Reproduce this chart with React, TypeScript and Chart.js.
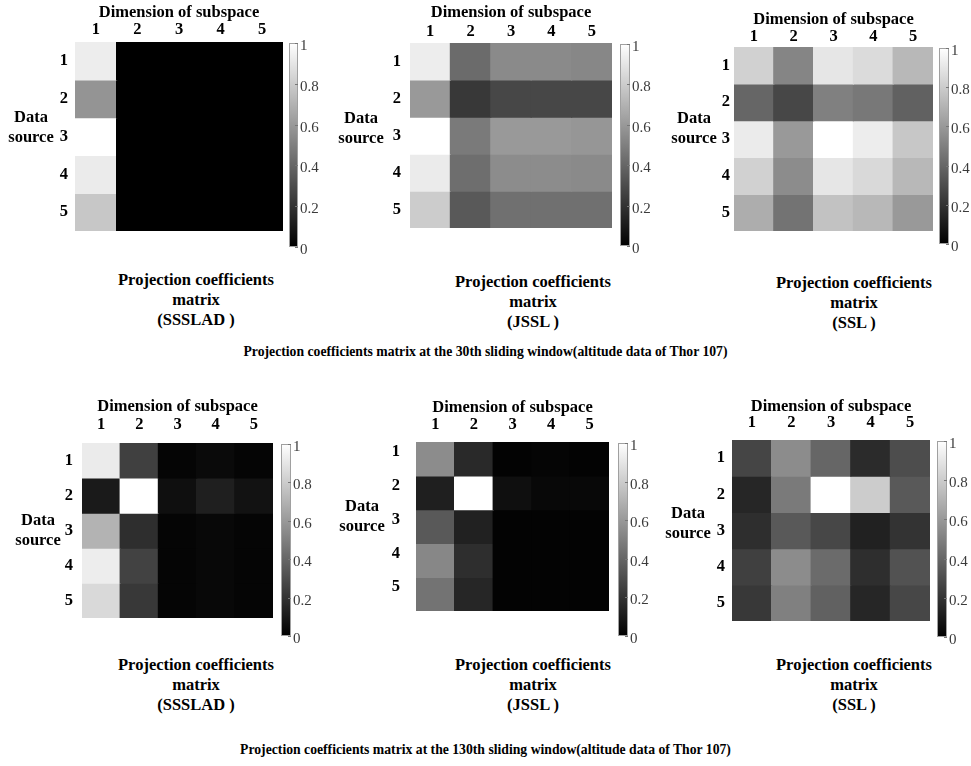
import React, { useEffect, useRef } from "react";
import { Chart, registerables } from "chart.js";
Chart.register(...registerables);

// ---------- data ----------
const dimensionLabels = ["1", "2", "3", "4", "5"];
const sourceLabels = ["1", "2", "3", "4", "5"];
const colorbarTicks = [0, 0.2, 0.4, 0.6, 0.8, 1];

// rows = data source 1..5, columns = dimension of subspace 1..5
const sssladWin30 = [
  [0.93, 0, 0, 0, 0],
  [0.58, 0, 0, 0, 0],
  [1.0, 0, 0, 0, 0],
  [0.92, 0, 0, 0, 0],
  [0.78, 0, 0, 0, 0],
];
const jsslWin30 = [
  [0.93, 0.42, 0.54, 0.54, 0.53],
  [0.6, 0.22, 0.28, 0.28, 0.28],
  [1.0, 0.48, 0.6, 0.6, 0.59],
  [0.92, 0.43, 0.55, 0.55, 0.54],
  [0.8, 0.35, 0.44, 0.44, 0.44],
];
const sslWin30 = [
  [0.82, 0.52, 0.9, 0.86, 0.72],
  [0.4, 0.28, 0.5, 0.47, 0.38],
  [0.92, 0.6, 1.0, 0.93, 0.78],
  [0.82, 0.55, 0.9, 0.85, 0.72],
  [0.68, 0.45, 0.76, 0.72, 0.6],
];
const sssladWin130 = [
  [0.92, 0.25, 0.02, 0.04, 0.02],
  [0.1, 1.0, 0.06, 0.12, 0.07],
  [0.7, 0.18, 0.02, 0.03, 0.02],
  [0.93, 0.26, 0.02, 0.03, 0.02],
  [0.85, 0.22, 0.02, 0.03, 0.02],
];
const jsslWin130 = [
  [0.55, 0.16, 0.01, 0.02, 0.01],
  [0.12, 1.0, 0.06, 0.03, 0.03],
  [0.35, 0.13, 0.01, 0.01, 0.01],
  [0.53, 0.18, 0.01, 0.01, 0.01],
  [0.45, 0.15, 0.01, 0.01, 0.01],
];
const sslWin130 = [
  [0.27, 0.55, 0.4, 0.17, 0.3],
  [0.15, 0.48, 1.0, 0.8, 0.35],
  [0.18, 0.35, 0.28, 0.13, 0.2],
  [0.25, 0.55, 0.42, 0.18, 0.32],
  [0.22, 0.5, 0.38, 0.15, 0.28],
];

const xAxisTitle = "Dimension of subspace";
const yAxisTitle = ["Data", "source"];
const bottomTitle = ["Projection coefficients", "matrix"];
const suptitle30 = "Projection coefficients matrix at the 30th sliding window(altitude data of Thor 107)";
const suptitle130 = "Projection coefficients matrix at the 130th sliding window(altitude data of Thor 107)";

// ---------- layout ----------
const FONT = "'Liberation Serif', 'Times New Roman', serif";
const LABEL_SIZE = 16.5;

type Panel = {
  data: number[][];
  method: string;
  hx: number; hy: number; hw: number; hh: number;
  cbx: number; cbw: number;
  xTickPad: number; titleRise: number; yTickPad: number; yLabelOffset: number;
  dsx: number; dsy: number; btx: number; bty: number;
};

const panels: Panel[] = [
  { data: sssladWin30, method: "(SSSLAD )", hx: 75, hy: 42, hw: 208, hh: 206, cbx: 289, cbw: 9,
    xTickPad: 2, titleRise: 29, yTickPad: 7, yLabelOffset: 0, dsx: 31, dsy: 117, btx: 196, bty: 280 },
  { data: jsslWin30, method: "(JSSL )", hx: 410, hy: 43, hw: 202, hh: 204, cbx: 620, cbw: 10,
    xTickPad: 1, titleRise: 30, yTickPad: 9, yLabelOffset: 0, dsx: 361, dsy: 118, btx: 533, bty: 282 },
  { data: sslWin30, method: "(SSL )", hx: 734, hy: 47, hw: 199, hh: 198, cbx: 939, cbw: 10,
    xTickPad: 0, titleRise: 27, yTickPad: 4, yLabelOffset: 0, dsx: 694, dsy: 118, btx: 854, bty: 283 },
  { data: sssladWin130, method: "(SSSLAD )", hx: 82, hy: 443, hw: 191, hh: 194, cbx: 281, cbw: 10,
    xTickPad: 8, titleRise: 36, yTickPad: 9, yLabelOffset: 0, dsx: 38, dsy: 520, btx: 196, bty: 665 },
  { data: jsslWin130, method: "(JSSL )", hx: 416, hy: 442, hw: 193, hh: 195, cbx: 618, cbw: 10,
    xTickPad: 7, titleRise: 34, yTickPad: 16, yLabelOffset: -7, dsx: 362, dsy: 506, btx: 533, bty: 665 },
  { data: sslWin130, method: "(SSL )", hx: 732, hy: 440, hw: 198, hh: 198, cbx: 937, cbw: 10,
    xTickPad: 7, titleRise: 33, yTickPad: 7, yLabelOffset: 0, dsx: 688, dsy: 513, btx: 854, bty: 665 },
];

const gray = (v: number) => {
  const g = Math.round(Math.max(0, Math.min(1, v)) * 255);
  return `rgb(${g},${g},${g})`;
};

const LEFT_W = 40;

function Heatmap({ p }: { p: Panel }) {
  const ref = useRef<HTMLCanvasElement>(null);
  const half = (LABEL_SIZE * 1.2) / 2;
  const topH = Math.round(p.titleRise + half);
  useEffect(() => {
    if (!ref.current) return;
    const chart = new Chart(ref.current, {
      type: "bar",
      data: {
        labels: dimensionLabels,
        datasets: p.data.map((row, r) => ({
          label: sourceLabels[r],
          data: row.map(() => 1),
          backgroundColor: row.map(gray),
          borderWidth: 0,
          barPercentage: 1,
          categoryPercentage: 1,
          inflateAmount: 0.6,
        })),
      },
      options: {
        animation: false,
        responsive: false,
        layout: { padding: 0 },
        plugins: { legend: { display: false }, tooltip: { enabled: false }, title: { display: false } },
        scales: {
          x: {
            position: "top",
            stacked: true,
            grid: { display: false, drawTicks: false },
            border: { display: false },
            ticks: {
              color: "#000", padding: p.xTickPad, maxRotation: 0, autoSkip: false,
              font: { family: FONT, size: LABEL_SIZE, weight: "bold" },
            },
            title: {
              display: true, text: xAxisTitle, color: "#000", padding: 0,
              font: { family: FONT, size: LABEL_SIZE, weight: "bold" },
            },
            afterFit: (s: any) => { s.height = topH; },
          },
          y: {
            stacked: true,
            reverse: true,
            min: 0,
            max: sourceLabels.length,
            grid: { display: false, drawTicks: false },
            border: { display: false },
            afterBuildTicks: (s: any) => {
              s.ticks = sourceLabels.map((_, i) => ({ value: i + 0.5 }));
            },
            ticks: {
              color: "#000", padding: p.yTickPad, labelOffset: p.yLabelOffset, autoSkip: false,
              font: { family: FONT, size: LABEL_SIZE, weight: "bold" },
              callback: (v: any) => sourceLabels[Math.floor(Number(v))],
            },
            afterFit: (s: any) => { s.width = LEFT_W; },
          },
        },
      } as any,
    });
    return () => chart.destroy();
  }, []);
  return (
    <div style={{ position: "absolute", left: p.hx - LEFT_W, top: p.hy - topH, width: p.hw + LEFT_W, height: p.hh + topH }}>
      <canvas ref={ref} width={p.hw + LEFT_W} height={p.hh + topH} />
    </div>
  );
}

const CB_PAD = 10;
const CB_LABEL_W = 32;

function Colorbar({ p }: { p: Panel }) {
  const ref = useRef<HTMLCanvasElement>(null);
  useEffect(() => {
    if (!ref.current) return;
    const frame = {
      id: "cbframe",
      afterDatasetsDraw(chart: any) {
        const { ctx, chartArea } = chart;
        const ys = chart.scales.y;
        ctx.save();
        ctx.strokeStyle = "#a0a0a0";
        ctx.lineWidth = 1;
        ctx.strokeRect(chartArea.left + 0.5, chartArea.top + 0.5, chartArea.right - chartArea.left - 1, chartArea.bottom - chartArea.top - 1);
        ctx.strokeStyle = "#777";
        colorbarTicks.forEach((t) => {
          const y = Math.round(ys.getPixelForValue(t)) + 0.5;
          ctx.beginPath();
          ctx.moveTo(chartArea.right - 3, y);
          ctx.lineTo(chartArea.right, y);
          ctx.stroke();
        });
        ctx.restore();
      },
    };
    const chart = new Chart(ref.current, {
      type: "bar",
      data: {
        labels: [""],
        datasets: [
          {
            data: [[0, 1]] as any,
            borderWidth: 0,
            barPercentage: 1,
            categoryPercentage: 1,
            backgroundColor: (ctx: any) => {
              const { chart } = ctx;
              const ca = chart.chartArea;
              if (!ca) return "#888";
              const g = chart.ctx.createLinearGradient(0, ca.bottom, 0, ca.top);
              g.addColorStop(0, gray(0));
              g.addColorStop(1, gray(1));
              return g;
            },
          },
        ],
      },
      options: {
        animation: false,
        responsive: false,
        layout: { padding: { top: CB_PAD, bottom: CB_PAD, left: 0, right: 0 } },
        plugins: { legend: { display: false }, tooltip: { enabled: false } },
        scales: {
          x: { display: false },
          y: {
            position: "right",
            min: 0,
            max: 1,
            grid: { display: false, drawTicks: false },
            border: { display: false },
            afterBuildTicks: (s: any) => {
              s.ticks = colorbarTicks.map((v) => ({ value: v }));
            },
            ticks: {
              color: "#3a3a3a", padding: 2, labelOffset: 3,
              font: { family: FONT, size: 15 },
              callback: (v: any) => String(Number(v)),
            },
            afterFit: (s: any) => { s.width = CB_LABEL_W; },
          },
        },
      } as any,
      plugins: [frame],
    });
    return () => chart.destroy();
  }, []);
  const w = p.cbw + CB_LABEL_W;
  const h = p.hh + 2 * CB_PAD;
  return (
    <div style={{ position: "absolute", left: p.cbx, top: p.hy - CB_PAD, width: w, height: h }}>
      <canvas ref={ref} width={w} height={h} />
    </div>
  );
}

const textStyle: React.CSSProperties = {
  position: "absolute",
  fontFamily: FONT,
  fontWeight: "bold",
  fontSize: LABEL_SIZE,
  lineHeight: "20px",
  textAlign: "center",
  color: "#000",
  whiteSpace: "nowrap",
};

function PanelLabels({ p }: { p: Panel }) {
  return (
    <>
      <div style={{ ...textStyle, left: p.dsx - 40, top: p.dsy - 10, width: 80 }}>
        {yAxisTitle.map((t, i) => (<div key={i}>{t}</div>))}
      </div>
      <div style={{ ...textStyle, left: p.btx - 120, top: p.bty - 10, width: 240 }}>
        {[...bottomTitle, p.method].map((t, i) => (<div key={i}>{t}</div>))}
      </div>
    </>
  );
}

export default function App() {
  return (
    <div style={{ position: "absolute", left: 0, top: 0, width: 971, height: 766, background: "#fff", overflow: "hidden" }}>
      {panels.map((p, i) => (
        <React.Fragment key={i}>
          <Heatmap p={p} />
          <Colorbar p={p} />
          <PanelLabels p={p} />
        </React.Fragment>
      ))}
      <div style={{ ...textStyle, fontSize: 13.7, left: 0, width: 971, top: 342 }}>{suptitle30}</div>
      <div style={{ ...textStyle, fontSize: 13.7, left: 0, width: 971, top: 740 }}>{suptitle130}</div>
    </div>
  );
}
